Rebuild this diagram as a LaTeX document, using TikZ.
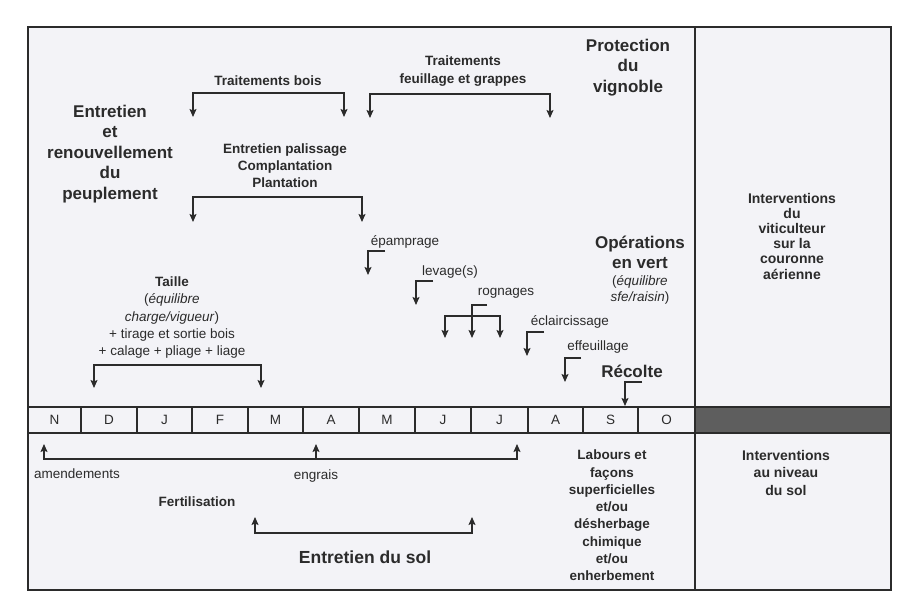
\documentclass[tikz,border=0pt]{standalone}
\usepackage{fontspec}
\setmainfont{Liberation Sans}
\usetikzlibrary{arrows.meta}
\definecolor{ink}{HTML}{2B2B2B}
\definecolor{paper}{HTML}{F3F3F7}
\definecolor{barc}{HTML}{5E5E5E}
\begin{document}
\begin{tikzpicture}[x=1pt,y=-1pt,
  ln/.style={draw=ink, line width=1.2pt},
  arr/.style={ln, -{Stealth[length=8pt,width=7pt,inset=1.5pt]}},
  darr/.style={ln, {Stealth[length=8pt,width=7pt,inset=1.5pt]}-{Stealth[length=8pt,width=7pt,inset=1.5pt]}},
  big/.style={font=\bfseries\fontsize{17}{20.5}\selectfont, align=center, inner sep=0pt, text=ink},
  med/.style={font=\bfseries\fontsize{13.5}{17.3}\selectfont, align=center, inner sep=0pt, text=ink},
  reg/.style={font=\fontsize{13.5}{17.3}\selectfont, align=center, inner sep=0pt, text=ink},
  rc/.style={font=\bfseries\fontsize{14}{15.2}\selectfont, align=center, inner sep=0pt, text=ink},
  mon/.style={font=\fontsize{13.5}{15}\selectfont, inner sep=0pt, text=ink}]
\useasboundingbox (0,0) rectangle (898,601);
\fill[white] (0,0) rectangle (898,601);
\fill[paper] (28,27) rectangle (891,590);
\fill[barc] (695,407) rectangle (891,433);
% frame
\draw[ink, line width=1.5pt] (28,27) rectangle (891,590);
\draw[ink, line width=1.5pt] (695,27) -- (695,590);
\draw[ink, line width=1.2pt] (28,407) -- (891,407);
\draw[ink, line width=1.2pt] (28,433) -- (891,433);
% months
\foreach \m/\a/\b [count=\i] in {N/28/81, D/81/137, J/137/192, F/192/248, M/248/303, A/303/359, M/359/415, J/415/471, J/471/528, A/528/583, S/583/638, O/638/695}{
  \draw[ink, line width=1.1pt] (\b,407) -- (\b,433);
  \node[mon] (m\i) at ({(\a+\b)/2},420) {\m};
}
% upper texts
\node[med] (tbois) at (268,81) {Traitements bois};
\node[med] (tfeuil) at (463,71) {Traitements\\[0.5pt]feuillage et grappes};
\node[big] (prot) at (628,67.5) {Protection\\du\\vignoble};
\node[big] (entr) at (110,154) {Entretien\\et\\renouvellement\\du\\peuplement};
\node[med] (pal) at (285,165.5) {Entretien palissage\\Complantation\\Plantation};
\node[reg] (epam) at (405,242) {épamprage};
\node[reg] (lev) at (450,272) {levage(s)};
\node[reg] (rogn) at (506,293) {rognages};
\node[reg] (ecl) at (570,322) {éclaircissage};
\node[reg] (eff) at (598,347) {effeuillage};
\node[big] (reco) at (632,371) {Récolte};
\node[big] (opv) at (640,252.5) {Opérations\\en vert};
\node[reg, font=\fontsize{13.5}{16}\selectfont] (opeq) at (640,290) {(\textit{équilibre}\\\textit{sfe/raisin})};
\node[reg] (taille) at (172,317.6) {\textbf{Taille}\\(\textit{équilibre}\\\textit{charge/vigueur})\\+ tirage et sortie bois\\+ calage + pliage + liage};
\node[rc] (intA) at (792,236) {Interventions\\du\\viticulteur\\sur la\\couronne\\aérienne};
% lower texts
\node[reg] (amend) at (77,474) {amendements};
\node[reg] (engr) at (316,476) {engrais};
\node[med] (fert) at (197,502) {Fertilisation};
\node[big, font=\bfseries\fontsize{17.5}{20.5}\selectfont] (esol) at (365,557) {Entretien du sol};
\node[med] (lab) at (612,515.5) {Labours et\\façons\\superficielles\\et/ou\\désherbage\\chimique\\et/ou\\enherbement};
\node[rc, font=\bfseries\fontsize{14}{17.5}\selectfont] (intB) at (786,472.5) {Interventions\\au niveau\\du sol};
% coordinates of connectors
\coordinate (tb1) at (193,117); \coordinate (tb2) at (344,93); \coordinate (tb3) at (344,117);
\coordinate (tf1) at (370,118); \coordinate (tf2) at (550,94); \coordinate (tf3) at (550,118);
\coordinate (pa1) at (193,222); \coordinate (pa2) at (362,197); \coordinate (pa3) at (362,222);
\coordinate (ta1) at (94,388); \coordinate (ta2) at (261,365); \coordinate (ta3) at (261,388);
\coordinate (ep1) at (385,251); \coordinate (ep2) at (368,275);
\coordinate (le1) at (433,281); \coordinate (le2) at (416,305);
\coordinate (ro1) at (487,305); \coordinate (ro2) at (472,338);
\coordinate (ro3) at (445,338); \coordinate (ro4) at (500,316); \coordinate (ro5) at (500,338);
\coordinate (ec1) at (544,332); \coordinate (ec2) at (527,356);
\coordinate (ef1) at (581,358); \coordinate (ef2) at (565,382);
\coordinate (rc1) at (642,382); \coordinate (rc2) at (625,406);
\coordinate (am1) at (44,444); \coordinate (am2) at (517,459); \coordinate (am3) at (517,444);
\coordinate (en1) at (316,459); \coordinate (en2) at (316,444);
\coordinate (fe1) at (255,517); \coordinate (fe2) at (472,533); \coordinate (fe3) at (472,517);
% connectors
\draw[darr] (tb1) |- (tb2) -- (tb3);
\draw[darr] (tf1) |- (tf2) -- (tf3);
\draw[darr] (pa1) |- (pa2) -- (pa3);
\draw[darr] (ta1) |- (ta2) -- (ta3);
\draw[arr] (ep1) -| (ep2);
\draw[arr] (le1) -| (le2);
\draw[arr] (ro1) -| (ro2);
\draw[darr] (ro3) |- (ro4) -- (ro5);
\draw[arr] (ec1) -| (ec2);
\draw[arr] (ef1) -| (ef2);
\draw[arr] (rc1) -| (rc2);
\draw[darr] (am1) |- (am2) -- (am3);
\draw[arr] (en1) -- (en2);
\draw[darr] (fe1) |- (fe2) -- (fe3);
\end{tikzpicture}
\end{document}
